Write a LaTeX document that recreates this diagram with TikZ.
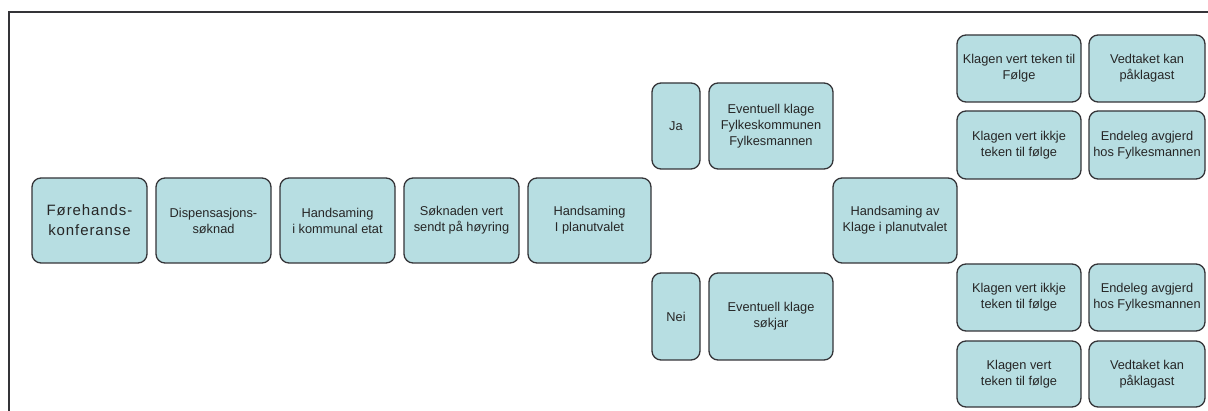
\documentclass[tikz,border=0pt]{standalone}
\usepackage{fontspec}
\setmainfont{Liberation Sans}
\definecolor{boxfill}{RGB}{183,222,226}
\definecolor{boxline}{RGB}{52,52,56}
\newcommand{\ls}{\kern0.9pt}
\begin{document}
\begin{tikzpicture}[x=1pt,y=-1pt,
  box/.style={draw=boxline, line width=1.3pt, fill=boxfill, rounded corners=9pt,
    inner sep=0pt, align=center, font=\fontsize{12.8}{16}\selectfont, text=black!85},
  big/.style={font=\fontsize{15}{20}\selectfont}]
\useasboundingbox (0,0) rectangle (1208,411);
\fill[white] (0,0) rectangle (1208,411);
\draw[boxline, line width=2.4pt] (9,411) -- (9,12) -- (1208,12);
\node[box,big,minimum width=115,minimum height=85] (b1) at (89.5,220.5) {F\ls ø\ls r\ls e\ls h\ls a\ls n\ls d\ls s\ls -\\k\ls o\ls n\ls f\ls e\ls r\ls a\ls n\ls s\ls e};
\node[box,minimum width=115,minimum height=85] (b2) at (213.5,220.5) {Dispensasjons-\\søknad};
\node[box,minimum width=115,minimum height=85] (b3) at (337.5,220.5) {Handsaming\\i kommunal etat};
\node[box,minimum width=115,minimum height=85] (b4) at (461.5,220.5) {Søknaden vert\\sendt på høyring};
\node[box,minimum width=123,minimum height=85] (b5) at (589.5,220.5) {Handsaming\\I planutvalet};
\node[box,minimum width=48,minimum height=86] (ja) at (676,126) {Ja};
\node[box,minimum width=124,minimum height=86] (ek1) at (771,126) {Eventuell klage\\Fylkeskommunen\\Fylkesmannen};
\node[box,minimum width=48,minimum height=87] (nei) at (676,316.5) {Nei};
\node[box,minimum width=124,minimum height=87] (ek2) at (771,316.5) {Eventuell klage\\søkjar};
\node[box,minimum width=124,minimum height=85] (hk) at (895,220.5) {Handsaming av\\Klage i planutvalet};
\node[box,minimum width=124,minimum height=67] (r1a) at (1019,68.5) {Klagen vert teken til\\Følge};
\node[box,minimum width=116,minimum height=67] (r1b) at (1147,68.5) {Vedtaket kan\\påklagast};
\node[box,minimum width=124,minimum height=68] (r2a) at (1019,145) {Klagen vert ikkje\\teken til følge};
\node[box,minimum width=116,minimum height=68] (r2b) at (1147,145) {Endeleg avgjerd\\hos Fylkesmannen};
\node[box,minimum width=124,minimum height=67] (r3a) at (1019,297.5) {Klagen vert ikkje\\teken til følge};
\node[box,minimum width=116,minimum height=67] (r3b) at (1147,297.5) {Endeleg avgjerd\\hos Fylkesmannen};
\node[box,minimum width=124,minimum height=66] (r4a) at (1019,374) {Klagen vert\\teken til følge};
\node[box,minimum width=116,minimum height=66] (r4b) at (1147,374) {Vedtaket kan\\påklagast};
\end{tikzpicture}
\end{document}
